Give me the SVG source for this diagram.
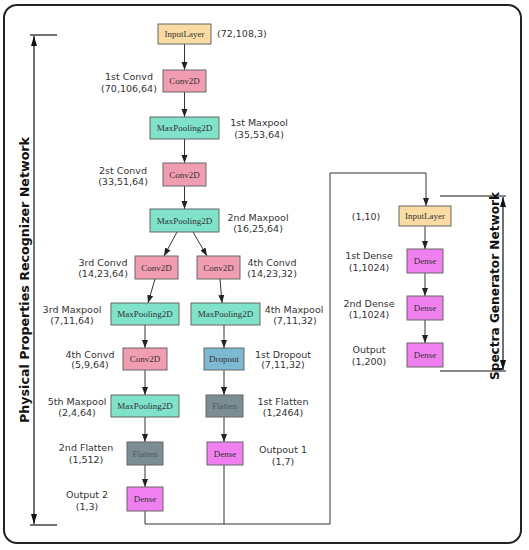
<svg xmlns="http://www.w3.org/2000/svg" width="529" height="550" viewBox="0 0 529 550">
<defs>
<marker id="ah" markerUnits="userSpaceOnUse" markerWidth="8" markerHeight="8" viewBox="0 0 8 8" refX="8" refY="4" orient="auto-start-reverse">
<path d="M0,1 L8,4 L0,7 Z" fill="#222"/>
</marker>
<marker id="ab" markerUnits="userSpaceOnUse" markerWidth="10" markerHeight="10" viewBox="0 0 10 10" refX="10" refY="5" orient="auto-start-reverse">
<path d="M0,2 L10,5 L0,8 Z" fill="#111"/>
</marker>
<style>
.n rect{stroke:#666;stroke-width:1}
.n text{font-family:"Liberation Serif","Times New Roman",serif;font-size:9px;fill:#333;text-anchor:middle}
.in rect{fill:#f9dba3}
.cv rect{fill:#f19db1}
.mp rect{fill:#7fe2c9}
.dr rect{fill:#7db9d1}
.fl rect{fill:#7b8c93}
.fl text{fill:#4a5a62}
.de rect{fill:#f080ef}
.lb{font-family:"DejaVu Sans",Verdana,sans-serif;font-size:9.5px;fill:#333;text-anchor:middle}
.c line,.c polyline{stroke:#333;stroke-width:1;fill:none}
.ar{marker-end:url(#ah)}
.dim{stroke:#111;stroke-width:1.2;fill:none}
.vt{font-family:"DejaVu Sans",Verdana,sans-serif;font-weight:bold;font-size:12px;fill:#111;text-anchor:middle}
</style>
</defs>
<rect width="529" height="550" fill="#fff"/>
<rect x="4" y="5" width="517" height="538" rx="13" fill="none" stroke="#222" stroke-width="2"/>

<!-- dimension arrows -->
<g id="dim-left">
<line class="dim" x1="30" y1="35" x2="57" y2="35"/>
<line class="dim" x1="30" y1="525" x2="57" y2="525"/>
<line class="dim" x1="34" y1="36" x2="34" y2="524" marker-start="url(#ab)" marker-end="url(#ab)"/>
<text class="vt" transform="translate(29,280) rotate(-90)" textLength="286" lengthAdjust="spacingAndGlyphs">Physical Properties Recognizer Network</text>
</g>
<g id="dim-right">
<line class="dim" x1="440" y1="196" x2="506" y2="196"/>
<line class="dim" x1="440" y1="371" x2="506" y2="371"/>
<line class="dim" x1="503" y1="197" x2="503" y2="370" marker-start="url(#ab)" marker-end="url(#ab)"/>
<text class="vt" transform="translate(499,286) rotate(-90)" textLength="188" lengthAdjust="spacingAndGlyphs">Spectra Generator Network</text>
</g>

<!-- connectors -->
<g id="connectors" class="c">
<line class="ar" x1="184.5" y1="44" x2="184.5" y2="70"/>
<line class="ar" x1="184.5" y1="92" x2="184.5" y2="117"/>
<line class="ar" x1="184.5" y1="139" x2="184.5" y2="163"/>
<line class="ar" x1="184.5" y1="186" x2="184.5" y2="209"/>
<line class="ar" x1="177" y1="232" x2="164" y2="256"/>
<line class="ar" x1="193" y1="232" x2="207" y2="256"/>
<line class="ar" x1="155" y1="279" x2="148" y2="303"/>
<line class="ar" x1="220" y1="279" x2="222" y2="303"/>
<line class="ar" x1="145" y1="325" x2="145" y2="348"/>
<line class="ar" x1="224" y1="325" x2="224" y2="348"/>
<line class="ar" x1="145" y1="370" x2="145" y2="395"/>
<line class="ar" x1="224" y1="370" x2="224" y2="395"/>
<line class="ar" x1="145" y1="417" x2="145" y2="442"/>
<line class="ar" x1="224" y1="417" x2="224" y2="442"/>
<line class="ar" x1="145" y1="465" x2="145" y2="487"/>
<polyline points="224,465 224,524"/>
<polyline class="ar" points="145,511 145,524 330,524 330,173 426,173 426,206"/>
<line class="ar" x1="425" y1="226" x2="425" y2="249"/>
<line class="ar" x1="425" y1="273" x2="425" y2="296"/>
<line class="ar" x1="425" y1="320" x2="425" y2="343"/>
</g>

<!-- left network nodes -->
<g id="input1" class="n in"><rect x="158" y="24" width="53" height="20"/><text x="184.5" y="37">InputLayer</text></g>
<g id="conv1" class="n cv"><rect x="163" y="70" width="43" height="22"/><text x="184.5" y="84">Conv2D</text></g>
<g id="pool1" class="n mp"><rect x="150" y="117" width="69" height="22"/><text x="184.5" y="131">MaxPooling2D</text></g>
<g id="conv2" class="n cv"><rect x="163" y="163" width="43" height="23"/><text x="184.5" y="177.5">Conv2D</text></g>
<g id="pool2" class="n mp"><rect x="150" y="209" width="69" height="23"/><text x="184.5" y="223.5">MaxPooling2D</text></g>
<g id="conv3" class="n cv"><rect x="135" y="256" width="43" height="23"/><text x="156.5" y="270.5">Conv2D</text></g>
<g id="conv4" class="n cv"><rect x="197" y="256" width="43" height="23"/><text x="218.5" y="270.5">Conv2D</text></g>
<g id="pool3" class="n mp"><rect x="111" y="303" width="68" height="22"/><text x="145" y="317">MaxPooling2D</text></g>
<g id="pool4" class="n mp"><rect x="191" y="303" width="69" height="22"/><text x="225.5" y="317">MaxPooling2D</text></g>
<g id="conv5" class="n cv"><rect x="123" y="348" width="44" height="22"/><text x="145" y="362">Conv2D</text></g>
<g id="dropout1" class="n dr"><rect x="204" y="348" width="40" height="22"/><text x="224" y="362">Dropout</text></g>
<g id="pool5" class="n mp"><rect x="111" y="395" width="68" height="22"/><text x="145" y="409">MaxPooling2D</text></g>
<g id="flatten1" class="n fl"><rect x="206" y="395" width="37" height="22"/><text x="224.5" y="409">Flatten</text></g>
<g id="flatten2" class="n fl"><rect x="127" y="442" width="36" height="23"/><text x="145" y="456.5">Flatten</text></g>
<g id="dense-out1" class="n de"><rect x="207" y="442" width="36" height="23"/><text x="225" y="456.5">Dense</text></g>
<g id="dense-out2" class="n de"><rect x="127" y="487" width="36" height="24"/><text x="145" y="502">Dense</text></g>

<!-- right network nodes -->
<g id="input2" class="n in"><rect x="399" y="206" width="52" height="20"/><text x="425" y="219">InputLayer</text></g>
<g id="dense1" class="n de"><rect x="407" y="249" width="36" height="24"/><text x="425" y="264">Dense</text></g>
<g id="dense2" class="n de"><rect x="407" y="296" width="36" height="24"/><text x="425" y="311">Dense</text></g>
<g id="dense3" class="n de"><rect x="407" y="343" width="36" height="24"/><text x="425" y="358">Dense</text></g>

<!-- labels -->
<g id="labels" class="lb">
<text x="217" y="37" text-anchor="start">(72,108,3)</text>
<text x="129" y="80">1st Convd</text><text x="129" y="92">(70,106,64)</text>
<text x="259" y="126">1st Maxpool</text><text x="259" y="137.5">(35,53,64)</text>
<text x="123" y="173.5">2st Convd</text><text x="123" y="185">(33,51,64)</text>
<text x="258" y="220.5">2nd Maxpool</text><text x="258" y="231.5">(16,25,64)</text>
<text x="103" y="266">3rd Convd</text><text x="103" y="277">(14,23,64)</text>
<text x="272" y="266">4th Convd</text><text x="272" y="277">(14,23,32)</text>
<text x="72" y="312.5">3rd Maxpool</text><text x="72" y="323.5">(7,11,64)</text>
<text x="294" y="312.5">4th Maxpool</text><text x="295" y="323.5">(7,11,32)</text>
<text x="90" y="357.5">4th Convd</text><text x="90" y="368">(5,9,64)</text>
<text x="283" y="357.5">1st Dropout</text><text x="283" y="368">(7,11,32)</text>
<text x="77" y="404.5">5th Maxpool</text><text x="77" y="415.5">(2,4,64)</text>
<text x="283" y="404.5">1st Flatten</text><text x="283" y="415.5">(1,2464)</text>
<text x="86" y="450.5">2nd Flatten</text><text x="86" y="462.5">(1,512)</text>
<text x="283" y="452.5">Outpout 1</text><text x="283" y="464.5">(1,7)</text>
<text x="87" y="497.5">Output 2</text><text x="87" y="509.5">(1,3)</text>
<text x="366" y="219.5">(1,10)</text>
<text x="369" y="258.5">1st Dense</text><text x="369" y="270.5">(1,1024)</text>
<text x="369" y="306.5">2nd Dense</text><text x="369" y="317.5">(1,1024)</text>
<text x="369" y="352.5">Output</text><text x="369" y="364.5">(1,200)</text>
</g>
</svg>
